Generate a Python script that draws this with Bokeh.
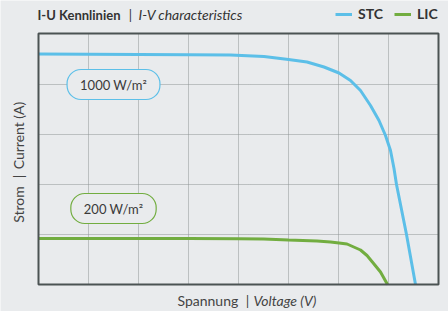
from bokeh.plotting import figure
from bokeh.models import Range1d, Label, Legend, LegendItem
from bokeh.embed import file_html
from bokeh.resources import INLINE
import math

# ---- data (x in grid columns of voltage, y in grid rows of current)
stc_v = [0.0, 1.0, 2.0, 3.0, 3.84, 4.51, 5.0, 5.37, 5.71, 6.01, 6.24, 6.44, 6.64, 6.81, 6.94, 7.04, 7.11, 7.16, 7.36, 7.54]
stc_i = [4.61, 4.605, 4.60, 4.595, 4.59, 4.56, 4.50, 4.45, 4.35, 4.23, 4.08, 3.88, 3.58, 3.28, 2.98, 2.68, 2.32, 2.0, 1.0, 0.0]
lic_v = [0.0, 1.0, 2.0, 3.0, 4.0, 4.5, 5.0, 5.57, 5.84, 6.01, 6.17, 6.44, 6.57, 6.71, 6.84, 6.98]
lic_i = [0.92, 0.92, 0.92, 0.918, 0.915, 0.91, 0.89, 0.87, 0.85, 0.83, 0.81, 0.69, 0.58, 0.41, 0.25, 0.0]
x_grid = [1, 2, 3, 4, 5, 6, 7]
y_grid = [1, 2, 3, 4]
x_max = 8.0
y_max = 5.02
series_names = ["STC", "LIC"]
box_labels = ["1000 W/m²", "200 W/m²"]

BG = "#e9ebed"
BLUE = "#5cbfe8"
GREEN = "#72ad40"
FONT = "Lato"

p = figure(width=448, height=311, output_backend="svg", toolbar_location=None,
           x_axis_location=None, y_axis_location=None,
           x_range=Range1d(-0.76, 8.2), y_range=Range1d(-0.54, 5.68),
           min_border=0)
p.background_fill_color = BG
p.border_fill_color = BG
p.outline_line_color = None
p.xgrid.visible = False
p.ygrid.visible = False

# grid lines
p.segment(x0=x_grid, y0=[0] * len(x_grid), x1=x_grid, y1=[y_max] * len(x_grid),
          line_color="#8e9494", line_dash="1 1", line_width=1)
p.segment(x0=[0] * len(y_grid), y0=y_grid, x1=[x_max] * len(y_grid), y1=y_grid,
          line_color="#8e9494", line_dash="1 1", line_width=1)

r_stc = p.line(stc_v, stc_i, line_color=BLUE, line_width=3)
r_lic = p.line(lic_v, lic_i, line_color=GREEN, line_width=3)

# plot frame
p.quad(left=[0], right=[x_max], bottom=[0], top=[y_max], fill_color=None,
       line_color="#4b5353", line_width=2)

legend = Legend(items=[LegendItem(label=series_names[0], renderers=[r_stc]),
                       LegendItem(label=series_names[1], renderers=[r_lic])],
                orientation="horizontal", location=(335, 289),
                background_fill_alpha=0, border_line_alpha=0, padding=0, margin=0,
                spacing=11, glyph_width=17, glyph_height=14, label_standoff=6,
                label_text_font=FONT, label_text_font_style="bold",
                label_text_font_size="14px", label_text_color="#333333")
p.add_layout(legend)

# pill labels
for txt, yv, col in ((box_labels[0], 4.0, BLUE), (box_labels[1], 1.52, GREEN)):
    p.add_layout(Label(x=1.5, y=yv, text=txt, text_align="center", text_baseline="middle",
                       text_font=FONT, text_font_size="13px", text_color="#3a3a3a",
                       background_fill_color=BG, border_line_color=col, border_line_width=1.2,
                       padding=dict(left=13, right=13, top=7, bottom=7),
                       border_radius=14))

# title
p.add_layout(Label(x=-0.02, y=5.4, text="I-U Kennlinien", text_baseline="middle",
                   text_font=FONT, text_font_style="bold", text_font_size="13px", text_color="#333333"))
p.add_layout(Label(x=1.84, y=5.4, text="|", text_align="center", text_baseline="middle",
                   text_font=FONT, text_font_size="13px", text_color="#333333"))
p.add_layout(Label(x=2.0, y=5.4, text="I-V characteristics", text_baseline="middle",
                   text_font=FONT, text_font_style="italic", text_font_size="14px", text_color="#333333"))

# x label
p.add_layout(Label(x=2.78, y=-0.32, text="Spannung", text_baseline="middle",
                   text_font=FONT, text_font_size="14px", text_color="#444444"))
p.add_layout(Label(x=4.18, y=-0.32, text="|", text_align="center", text_baseline="middle",
                   text_font=FONT, text_font_size="14px", text_color="#444444"))
p.add_layout(Label(x=4.30, y=-0.32, text="Voltage (V)", text_baseline="middle",
                   text_font=FONT, text_font_style="italic", text_font_size="14px", text_color="#444444"))

# y label (rotated, pieces)
for txt, yv in (("Strom", 1.6), ("|", 2.16), ("Current (A)", 2.98)):
    p.add_layout(Label(x=-0.4, y=yv, text=txt, text_align="center", text_baseline="middle",
                       angle=math.pi / 2, text_font=FONT, text_font_size="14px", text_color="#444444"))

open("out.html", "w").write(file_html(p, INLINE))
